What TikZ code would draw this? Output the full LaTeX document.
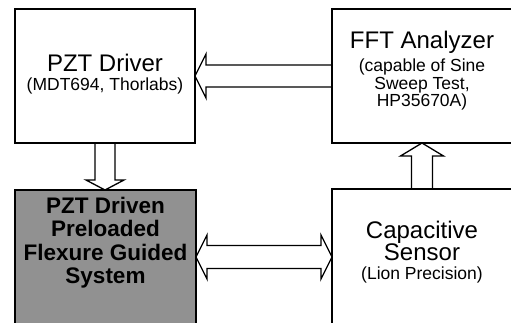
\documentclass[tikz,border=0pt]{standalone}
\usepackage{fontspec}
\setmainfont{Liberation Sans}
\usetikzlibrary{calc}

\definecolor{plant}{RGB}{145,145,145}

\tikzset{
  blockbox/.style={draw=black, line width=1.6pt, inner sep=0pt, outer sep=0pt,
                   anchor=north west},
  title/.style={anchor=base, inner sep=0pt, font=\fontsize{24}{25}\selectfont},
  boldtitle/.style={anchor=base, inner sep=0pt, font=\fontsize{22.5}{24}\selectfont\bfseries},
  subtitle/.style={anchor=base, inner sep=0pt, font=\fontsize{17.5}{18}\selectfont},
  hollow/.style={draw=black, line width=1.3pt, line join=miter},
}

\begin{document}
\begin{tikzpicture}[x=1pt, y=-1pt]
\useasboundingbox (0,0) rectangle (511,322);
\clip (0,0) rectangle (511,322);

% blocks
\node[blockbox, minimum width=180pt, minimum height=134pt] (drv) at (15,9) {};
\node[blockbox, minimum width=180pt, minimum height=134pt] (fft) at (332,9) {};
\node[blockbox, fill=plant, minimum width=181pt, minimum height=150pt] (stage) at (15,190) {};
\node[blockbox, minimum width=180pt, minimum height=150pt] (cap) at (332,189) {};

% block texts
\node[title]    (drvA) at (105,71.5) {PZT Driver};
\node[subtitle] (drvB) at (105,90) {(MDT694, Thorlabs)};

\node[title]    (fftA) at (422,48) {FFT Analyzer};
\node[subtitle] (fftB) at (422,71) {(capable of Sine};
\node[subtitle] (fftC) at (422,89) {Sweep Test,};
\node[subtitle] (fftD) at (422,106) {HP35670A)};

\node[boldtitle] (stA) at (105.5,213) {PZT Driven};
\node[boldtitle] (stB) at (105.5,236.5) {Preloaded};
\node[boldtitle] (stC) at (105.5,260) {Flexure Guided};
\node[boldtitle] (stD) at (105.5,283.5) {System};

\node[title]    (capA) at (422,238) {Capacitive};
\node[title]    (capB) at (422,260) {Sensor};
\node[subtitle] (capC) at (422,279) {(Lion Precision)};

% FFT analyzer -> PZT driver (hollow arrow pointing left)
\coordinate (a1tip) at (drv.east);
\coordinate (a1tail) at (fft.west);
\draw[hollow]
  ($(a1tail)+(0,-11)$) -- ($(a1tip)+(11,-11)$) -- ($(a1tip)+(11,-22)$)
  -- (a1tip) -- ($(a1tip)+(11,22)$) -- ($(a1tip)+(11,11)$) -- ($(a1tail)+(0,11)$);

% PZT driver -> flexure stage (hollow arrow pointing down)
\coordinate (a2tail) at (drv.south);
\coordinate (a2tip) at (a2tail |- stage.north);
\draw[hollow]
  ($(a2tail)+(-10,0)$) -- ($(a2tip)+(-10,-10)$) -- ($(a2tip)+(-19,-10)$)
  -- (a2tip) -- ($(a2tip)+(19,-10)$) -- ($(a2tip)+(10,-10)$) -- ($(a2tail)+(10,0)$);

% capacitive sensor -> FFT analyzer (hollow arrow pointing up)
\coordinate (a3tail) at (cap.north);
\coordinate (a3tip) at (a3tail |- fft.south);
\draw[hollow]
  ($(a3tail)+(-10.5,0)$) -- ($(a3tip)+(-10.5,13)$) -- ($(a3tip)+(-21.5,13)$)
  -- (a3tip) -- ($(a3tip)+(21.5,13)$) -- ($(a3tip)+(10.5,13)$) -- ($(a3tail)+(10.5,0)$);

% flexure stage <-> capacitive sensor (hollow double arrow)
\coordinate (a4l) at (stage.east |- 0,257);
\coordinate (a4r) at (cap.west |- 0,257);
\draw[hollow]
  (a4l) -- ($(a4l)+(11,-22)$) -- ($(a4l)+(11,-11.5)$) -- ($(a4r)+(-11,-11.5)$)
  -- ($(a4r)+(-11,-22)$) -- (a4r) -- ($(a4r)+(-11,22)$) -- ($(a4r)+(-11,11.5)$)
  -- ($(a4l)+(11,11.5)$) -- ($(a4l)+(11,22)$) -- cycle;
\end{tikzpicture}
\end{document}
